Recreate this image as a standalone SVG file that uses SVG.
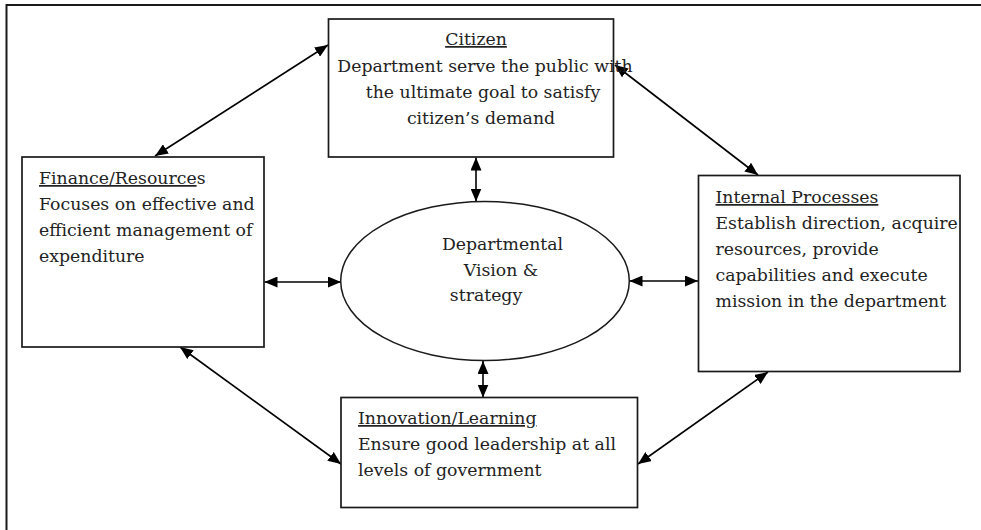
<svg xmlns="http://www.w3.org/2000/svg" width="981" height="530" viewBox="0 0 981 530">
<defs>
<marker id="ah" viewBox="0 0 13 11" refX="13" refY="5.5" markerWidth="13" markerHeight="11" markerUnits="userSpaceOnUse" orient="auto-start-reverse">
<path d="M0,0 L13,5.5 L0,11 z" fill="#000"/>
</marker>
<style>
.box{fill:#fff;stroke:#1a1a1a;stroke-width:1.7}
.t{font-family:"DejaVu Serif","Liberation Serif",serif;font-size:17.3px;fill:#222}
.u{text-decoration:underline}
.c{text-anchor:middle}
.ln{stroke:#000;stroke-width:1.6;fill:none;marker-start:url(#ah);marker-end:url(#ah)}
</style>
</defs>
<rect width="981" height="530" fill="#fff"/>
<g id="frame" stroke="#1a1a1a" stroke-width="2" fill="none">
<path d="M6.5,530 L6.5,5 L981,5"/>
</g>
<g id="connectors">
<path class="ln" d="M155,156 L328,45"/>
<path class="ln" d="M615,65 L758,175"/>
<path class="ln" d="M264.5,282 L341,282"/>
<path class="ln" d="M629.5,281 L698,281"/>
<path class="ln" d="M476,157.5 L476,201.5"/>
<path class="ln" d="M483,361 L483,397.5"/>
<path class="ln" d="M180,347 L341,464"/>
<path class="ln" d="M768,372 L638,464"/>
</g>
<g id="citizen">
<rect class="box" x="328.5" y="19" width="285" height="138"/>
<text class="t c" x="476" y="45"><tspan class="u">Citizen</tspan></text>
<text class="t c" x="485" y="72">Department serve the public with</text>
<text class="t c" x="483" y="98">the ultimate goal to satisfy</text>
<text class="t c" x="481" y="124">citizen’s demand</text>
</g>
<g id="finance">
<rect class="box" x="22" y="157" width="242" height="190"/>
<text class="t" x="39" y="184"><tspan class="u">Finance/Resource</tspan>s</text>
<text class="t" x="39" y="210">Focuses on effective and</text>
<text class="t" x="39" y="236">efficient management of</text>
<text class="t" x="39" y="262">expenditure</text>
</g>
<g id="internal">
<rect class="box" x="698.5" y="175.5" width="261.5" height="196"/>
<text class="t" x="715.5" y="203"><tspan class="u">Internal Processes</tspan></text>
<text class="t" x="715.5" y="229">Establish direction, acquire</text>
<text class="t" x="715.5" y="255">resources, provide</text>
<text class="t" x="715.5" y="281">capabilities and execute</text>
<text class="t" x="715.5" y="307">mission in the department</text>
</g>
<g id="vision">
<ellipse cx="485" cy="281" rx="144.3" ry="79.5" fill="#fff" stroke="#1a1a1a" stroke-width="1.5"/>
<text class="t c" x="502.5" y="250">Departmental</text>
<text class="t c" x="501" y="276">Vision &amp;</text>
<text class="t c" x="486" y="301">strategy</text>
</g>
<g id="innovation">
<rect class="box" x="341" y="397.5" width="296.5" height="110"/>
<text class="t" x="358" y="424"><tspan class="u">Innovation/Learning</tspan></text>
<text class="t" x="358" y="450">Ensure good leadership at all</text>
<text class="t" x="358" y="476">levels of government</text>
</g>
</svg>
